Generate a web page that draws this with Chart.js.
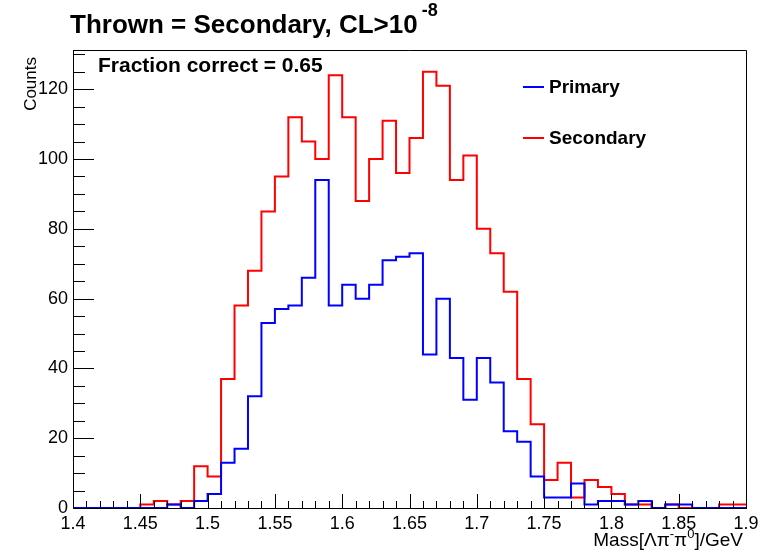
<!DOCTYPE html>
<html>
<head>
<meta charset="utf-8">
<script src="https://cdn.jsdelivr.net/npm/chart.js@4.4.1/dist/chart.umd.min.js"></script>
<style>
  body { margin: 0; background: #fff; }
  canvas { display: block; }
</style>
</head>
<body>
<canvas id="chart" width="765" height="552"></canvas>
<script>
const FONT = '"Liberation Sans", Arial, Helvetica, sans-serif';

// histogram binning: 50 bins of 0.01 GeV starting at 1.40
const lowEdge = 1.4;
const binWidth = 0.01;

// counts per bin (bin 1.40-1.41 first)
const primaryCounts = [
  0, 0, 0, 0, 0, 0, 0, 1, 0, 2,
  4, 13, 17, 32, 53, 57, 58, 66, 94, 58,
  64, 60, 64, 71, 72, 73, 44, 60, 43, 31,
  43, 36, 22, 19, 9, 3, 3, 7, 1, 2,
  2, 1, 2, 0, 1, 1, 0, 0, 0, 0,
];
const secondaryCounts = [
  0, 0, 0, 0, 0, 1, 2, 1, 2, 12,
  9, 37, 58, 68, 85, 95, 112, 105, 100, 124,
  112, 88, 100, 111, 96, 106, 125, 121, 94, 101,
  80, 73, 62, 37, 24, 8, 13, 3, 8, 6,
  4, 1, 1, 0, 1, 0, 0, 0, 1, 1,
];

const xTickValues = [1.4, 1.45, 1.5, 1.55, 1.6, 1.65, 1.7, 1.75, 1.8, 1.85, 1.9];
const yTickValues = [0, 20, 40, 60, 80, 100, 120];
const yMax = 131.25;

const titleMain = "Thrown = Secondary, CL>10";
const titleSup = "-8";
const fractionText = "Fraction correct = 0.65";
const yTitle = "Counts";

function toSteps(counts) {
  // one point per low edge plus the last high edge, drawn as a step line
  let points = [];
  for (let i = 0; i < counts.length; ++i) {
    points.push({ x: lowEdge + i * binWidth, y: counts[i] });
  }
  points.push({ x: lowEdge + counts.length * binWidth, y: counts[counts.length - 1] });
  return points;
}

function formatTick(value) {
  return String(Number(value.toFixed(2)));
}

function drawParts(ctx, parts, x, y, align) {
  // parts: [text, font, raise, gap before]
  let total = 0;
  parts.forEach(function (p) {
    ctx.font = p[1];
    total += ctx.measureText(p[0]).width + (p[3] || 0);
  });
  let cx = align === "right" ? x - total : x;
  ctx.textAlign = "left";
  ctx.textBaseline = "alphabetic";
  parts.forEach(function (p) {
    ctx.font = p[1];
    cx += p[3] || 0;
    ctx.fillText(p[0], cx, y - p[2]);
    cx += ctx.measureText(p[0]).width;
  });
}

const rootStyle = {
  id: "rootStyle",
  afterDraw(chart) {
    const ctx = chart.ctx;
    const xs = chart.scales.x;
    const ys = chart.scales.y;
    const area = chart.chartArea;
    ctx.save();
    ctx.strokeStyle = "#000";
    ctx.lineWidth = 1;
    ctx.beginPath();
    // x ticks drawn inward, major every 0.05
    for (let i = 0; i <= 50; ++i) {
      const px = Math.round(xs.getPixelForValue(lowEdge + i * binWidth)) + 0.5;
      const len = i % 5 === 0 ? 14 : 7;
      ctx.moveTo(px, area.bottom);
      ctx.lineTo(px, area.bottom - len);
    }
    // y ticks, major every 20, minor every 5
    for (let v = 0; v <= yMax; v += 5) {
      const py = Math.round(ys.getPixelForValue(v)) + 0.5;
      const len = v % 20 === 0 ? 21 : 12;
      ctx.moveTo(area.left, py);
      ctx.lineTo(area.left + len, py);
    }
    // frame top and right
    ctx.moveTo(area.left, Math.round(area.top) + 0.5);
    ctx.lineTo(Math.round(area.right) + 0.5, Math.round(area.top) + 0.5);
    ctx.lineTo(Math.round(area.right) + 0.5, area.bottom);
    ctx.stroke();

    ctx.fillStyle = "#000";
    drawParts(ctx, [[titleMain, "bold 26px " + FONT, 0], [titleSup, "bold 18px " + FONT, 17, 4]], 70, 33, "left");
    drawParts(ctx, [[fractionText, "bold 21px " + FONT, 0]], 98, 72, "left");
    drawParts(ctx, [
      ["Mass[\u039B\u03C0", "19px " + FONT, 0],
      ["-", "13px " + FONT, 8],
      ["\u03C0", "19px " + FONT, 0],
      ["0", "13px " + FONT, 8],
      ["]/GeV", "19px " + FONT, 0],
    ], 743, 546, "right");

    ctx.save();
    ctx.translate(36, 57);
    ctx.rotate(-Math.PI / 2);
    ctx.font = "17px " + FONT;
    ctx.textAlign = "right";
    ctx.textBaseline = "alphabetic";
    ctx.fillText(yTitle, 0, 0);
    ctx.restore();

    // legend
    const legendY = [87, 138];
    chart.data.datasets.forEach(function (ds, i) {
      ctx.strokeStyle = ds.borderColor;
      ctx.lineWidth = 2;
      ctx.beginPath();
      ctx.moveTo(523, legendY[i]);
      ctx.lineTo(544, legendY[i]);
      ctx.stroke();
      ctx.fillStyle = "#000";
      drawParts(ctx, [[ds.label, "bold 19px " + FONT, 0]], 549, legendY[i] + 6, "left");
    });
    ctx.restore();
  },
};

function makeChart() {
  const ctx = document.getElementById("chart").getContext("2d");
  new Chart(ctx, {
    type: "line",
    data: {
      datasets: [
        {
          label: "Primary",
          data: toSteps(primaryCounts),
          borderColor: "#0000ff",
          borderWidth: 2,
          stepped: true,
          pointRadius: 0,
          fill: false,
        },
        {
          label: "Secondary",
          data: toSteps(secondaryCounts),
          borderColor: "#ff0000",
          borderWidth: 2,
          stepped: true,
          pointRadius: 0,
          fill: false,
        },
      ],
    },
    options: {
      responsive: false,
      animation: false,
      devicePixelRatio: 1,
      layout: { padding: { left: 0, top: 50, right: 19, bottom: 0 } },
      plugins: { legend: { display: false }, tooltip: { enabled: false } },
      scales: {
        x: {
          type: "linear",
          min: 1.4,
          max: 1.9,
          grid: { display: false, drawTicks: false },
          border: { display: true, color: "#000", width: 1 },
          ticks: {
            color: "#000",
            font: { family: FONT, size: 18 },
            padding: 5,
            maxRotation: 0,
            autoSkip: false,
            callback: formatTick,
          },
          afterBuildTicks: function (scale) {
            scale.ticks = xTickValues.map(function (v) { return { value: v }; });
          },
          afterFit: function (scale) { scale.height = 44; },
        },
        y: {
          type: "linear",
          min: 0,
          max: yMax,
          grid: { display: false, drawTicks: false },
          border: { display: true, color: "#000", width: 1 },
          ticks: {
            color: "#000",
            font: { family: FONT, size: 18 },
            padding: 5,
          },
          afterBuildTicks: function (scale) {
            scale.ticks = yTickValues.map(function (v) { return { value: v }; });
          },
          afterFit: function (scale) { scale.width = 73; },
        },
      },
    },
    plugins: [rootStyle],
  });
}

makeChart();
</script>
</body>
</html>
